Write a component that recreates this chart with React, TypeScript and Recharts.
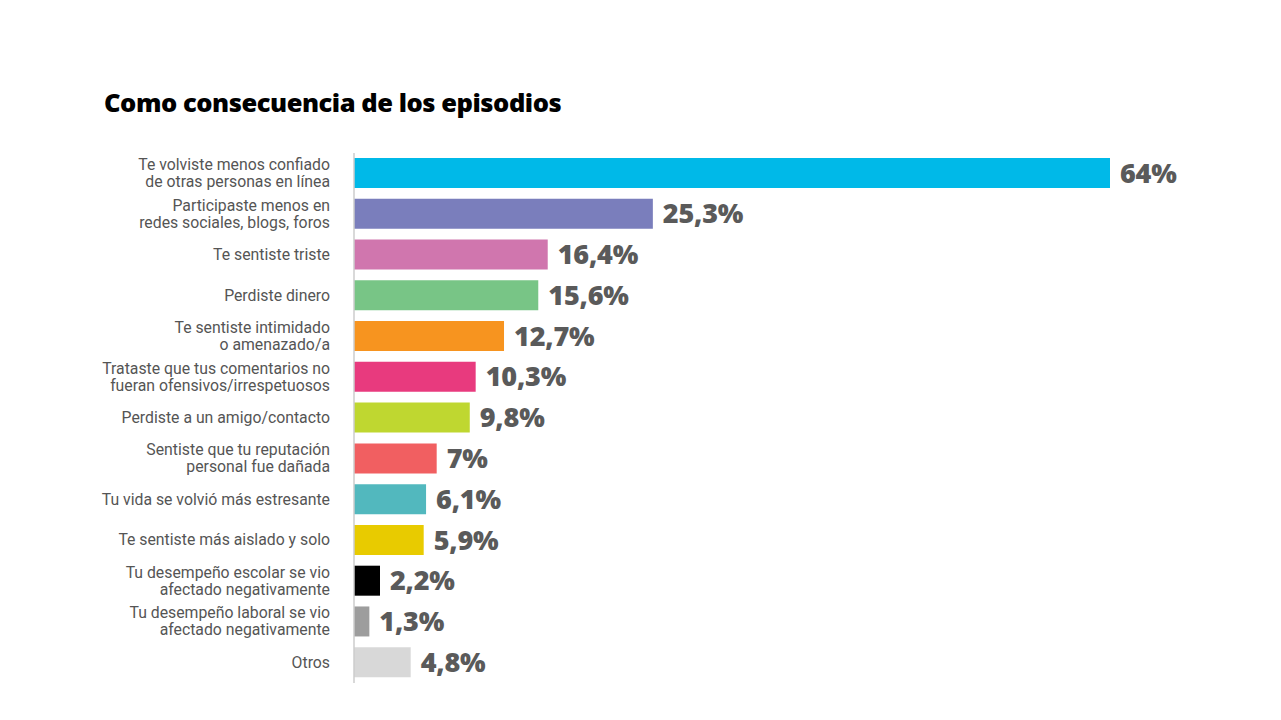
import { Bar, BarChart, Cell, LabelList, XAxis, YAxis } from "recharts";

const CATEGORIES = [
  "Te volviste menos confiado\nde otras personas en línea",
  "Participaste menos en\nredes sociales, blogs, foros",
  "Te sentiste triste",
  "Perdiste dinero",
  "Te sentiste intimidado\no amenazado/a",
  "Trataste que tus comentarios no\nfueran ofensivos/irrespetuosos",
  "Perdiste a un amigo/contacto",
  "Sentiste que tu reputación\npersonal fue dañada",
  "Tu vida se volvió más estresante",
  "Te sentiste más aislado y solo",
  "Tu desempeño escolar se vio\nafectado negativamente",
  "Tu desempeño laboral se vio\nafectado negativamente",
  "Otros",
];

const VALUES = [64, 25.3, 16.4, 15.6, 12.7, 10.3, 9.8, 7, 6.1, 5.9, 2.2, 1.3, 4.8];

const COLORS = [
  "#00B9E8",
  "#7A7EBC",
  "#D076AE",
  "#78C586",
  "#F7941F",
  "#E83A7E",
  "#BFD730",
  "#F15F61",
  "#52B8BE",
  "#E8CB00",
  "#000000",
  "#9D9D9D",
  "#D8D8D8",
];

const data = CATEGORIES.map((name, i) => ({ name, value: VALUES[i], fill: COLORS[i] }));

function CategoryTick({ x, y, payload }: any) {
  const lines = String(payload.value).split("\n");
  const lh = 17;
  const start = -((lines.length - 1) * lh) / 2;
  return (
    <text
      x={x - 16}
      y={y}
      textAnchor="end"
      fill="#555"
      fontSize={15.8}
      fontFamily="Roboto, sans-serif"
    >
      {lines.map((l, i) => (
        <tspan key={i} x={x - 16} dy={i === 0 ? start + 5 : lh}>
          {l}
        </tspan>
      ))}
    </text>
  );
}

export default function App() {
  return (
    <div style={{ position: "absolute", left: 0, top: 0, width: 1281, height: 720, background: "#fff" }}>
      <div
        style={{
          position: "absolute",
          left: 104,
          top: 85,
          fontFamily: "'Open Sans', sans-serif",
          fontWeight: 800,
          fontSize: 25.5,
          color: "#000",
          letterSpacing: -0.45,
        }}
      >
        Como consecuencia de los episodios
      </div>
      <BarChart
        width={1281}
        height={720}
        data={data}
        layout="vertical"
        margin={{ top: 153, right: 171, bottom: 37, left: 0 }}
      >
        <XAxis type="number" domain={[0, 64]} hide />
        <YAxis
          type="category"
          dataKey="name"
          width={354}
          axisLine={{ stroke: "#cccccc", strokeWidth: 1.5 }}
          tickLine={false}
          interval={0}
          tick={<CategoryTick />}
        />
        <Bar dataKey="value" barSize={30} isAnimationActive={false}>
          {data.map((d) => (
            <Cell key={d.name} fill={d.fill} />
          ))}
          <LabelList
            dataKey="value"
            position="right"
            offset={10}
            formatter={(v: any) => `${String(v).replace(".", ",")}%`}
            style={{
              fill: "#5a5a5a",
              fontSize: 27,
              fontWeight: 800,
              fontFamily: "'Open Sans', sans-serif",
              letterSpacing: -0.2,
            }}
          />
        </Bar>
      </BarChart>
    </div>
  );
}
